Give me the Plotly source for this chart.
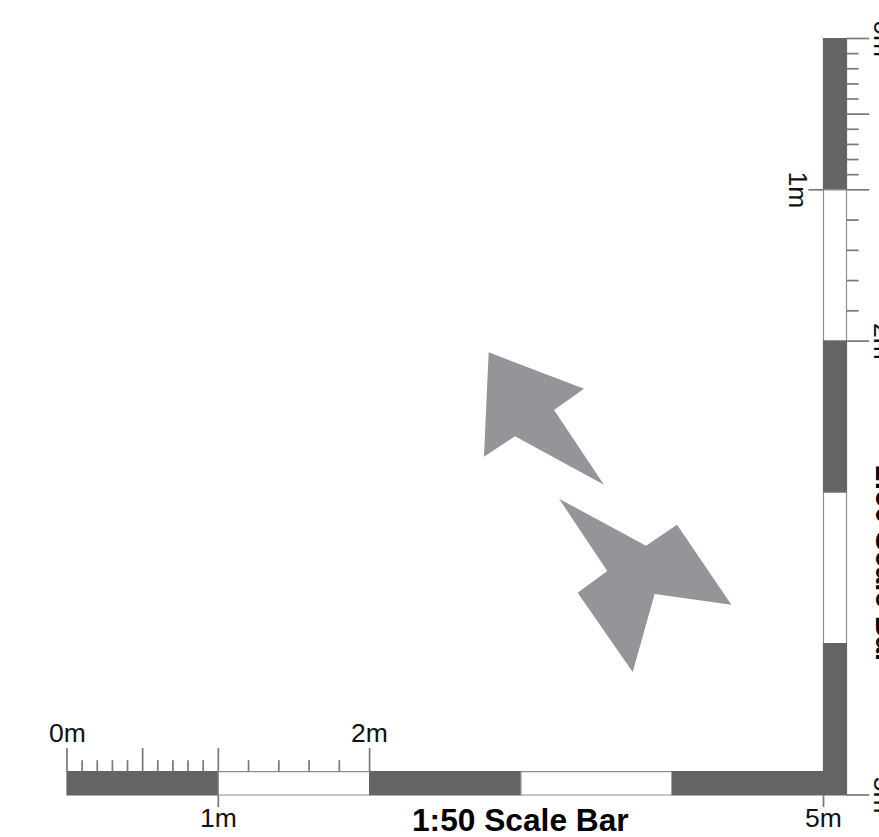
import plotly.graph_objects as go

# All values in metres on the drawing's 1:50 scale
segment_edges = [0, 1, 2, 3, 4, 5]
segment_colors = ["#636466", "#ffffff", "#636466", "#ffffff", "#636466"]
bar_depth = 0.152

h_major_ticks = [0, 0.5, 1, 2]
h_minor_ticks = [0.1, 0.2, 0.3, 0.4, 0.6, 0.7, 0.8, 0.9, 1.2, 1.4, 1.6, 1.8]
h_below_ticks = [1, 5]
h_labels_above = [(0, "0m"), (2, "2m")]
h_labels_below = [(1, "1m"), (5, "5m")]

v_major_ticks = [0, 0.5, 1, 2, 5]
v_minor_ticks = [0.1, 0.2, 0.3, 0.4, 0.6, 0.7, 0.8, 0.9, 1.2, 1.4, 1.6, 1.8]
v_left_ticks = [1]
v_labels_right = [(0, "0m"), (2, "2m"), (5, "5m")]
v_labels_left = [(1, "1m")]

shape_a_x = [2.787, 3.417, 3.219, 3.549, 2.961, 2.756]
shape_a_y = [2.926, 2.685, 2.545, 2.051, 2.371, 2.236]
shape_b_x = [3.252, 3.827, 4.032, 4.391, 3.884, 3.739, 3.375, 3.571]
shape_b_y = [1.958, 1.648, 1.787, 1.258, 1.328, 0.813, 1.337, 1.481]

title_h = "1:50 Scale Bar"
title_v = "1:50 Scale Bar"

W, H = 879, 837
PX_PER_M = 151.3
X0_PX, Y0_PX = 67, 795
x_range = [-X0_PX / PX_PER_M, (W - X0_PX) / PX_PER_M]
y_range = [(Y0_PX - H) / PX_PER_M, Y0_PX / PX_PER_M]
TICK = "#77787a"
OUT = "#8e8e8e"
FONT = "Liberation Sans"
fig = go.Figure()

lengths = [b - a for a, b in zip(segment_edges, segment_edges[1:])]
line_colors = [c if c != "#ffffff" else OUT for c in segment_colors]

# vertical bar (top reads 0)
fig.add_trace(go.Bar(orientation="v", x=[5 + bar_depth / 2] * 5, y=[-l for l in lengths],
                     base=[5 - e for e in segment_edges[:-1]], width=bar_depth,
                     marker=dict(color=segment_colors, line=dict(color=line_colors, width=1.2))))
# horizontal bar
fig.add_trace(go.Bar(orientation="h", y=[0.155 / 2] * 5, x=lengths,
                     base=segment_edges[:-1], width=0.155,
                     marker=dict(color=segment_colors, line=dict(color=line_colors, width=1.2))))


def segs_v(xs, y0, y1):
    X, Y = [], []
    for x in xs:
        X += [x, x, None]
        Y += [y0, y1, None]
    return X, Y


def segs_h(ys, x0, x1):
    X, Y = [], []
    for y in ys:
        X += [x0, x1, None]
        Y += [y, y, None]
    return X, Y


tick_sets = [
    segs_v(h_major_ticks, 0.155, 0.31),
    segs_v(h_minor_ticks, 0.155, 0.23),
    segs_v(h_below_ticks, 0, -0.08),
    segs_h([5 - t for t in v_major_ticks], 5 + bar_depth, 5 + bar_depth + 0.15),
    segs_h([5 - t for t in v_minor_ticks], 5 + bar_depth, 5 + bar_depth + 0.08),
    segs_h([5 - t for t in v_left_ticks], 5 - 0.1, 5),
]
for X, Y in tick_sets:
    fig.add_trace(go.Scatter(x=X, y=Y, mode="lines", line=dict(color=TICK, width=1.7),
                             hoverinfo="skip"))

for sx, sy in [(shape_a_x, shape_a_y), (shape_b_x, shape_b_y)]:
    fig.add_trace(go.Scatter(x=sx + sx[:1], y=sy + sy[:1], mode="lines", fill="toself",
                             fillcolor="#939598", line=dict(width=0), hoverinfo="skip"))

font = dict(family=FONT, size=26.5, color="#111111")
bold = dict(family=FONT, size=31.7, color="#000000", weight="bold")
bold_v = dict(family=FONT, size=29.2, color="#000000", weight="bold")
notes = []
for v, t in h_labels_above:
    notes.append(dict(x=v, y=0.31, text=t, yanchor="bottom", yshift=-2, font=font))
for v, t in h_labels_below:
    notes.append(dict(x=v, y=-0.08, text=t, yanchor="top", yshift=6, font=font))
notes.append(dict(x=3, y=-0.08, text=title_h, yanchor="top", yshift=7, font=bold))
for v, t in v_labels_right:
    notes.append(dict(x=5.302, y=5 - v, text=t, textangle=90, xanchor="left", xshift=-3, font=font))
for v, t in v_labels_left:
    notes.append(dict(x=4.9, y=5 - v, text=t, textangle=90, xanchor="right", xshift=7, font=font))
notes.append(dict(x=5.302, y=1.52, text=title_v, textangle=90, xanchor="left", xshift=-1, font=bold_v))
for n in notes:
    n.update(showarrow=False, xref="x", yref="y")

axis = dict(visible=False, showgrid=False, zeroline=False, fixedrange=True)
fig.update_layout(
    width=W, height=H, margin=dict(l=0, r=0, t=0, b=0), showlegend=False, barmode="overlay",
    paper_bgcolor="#ffffff", plot_bgcolor="#ffffff",
    xaxis=dict(range=x_range, **axis), yaxis=dict(range=y_range, **axis),
    annotations=notes,
)
fig.write_html("out.html", config={"displayModeBar": False},
               post_script="document.body.style.margin='0';document.body.style.overflow='hidden';")
